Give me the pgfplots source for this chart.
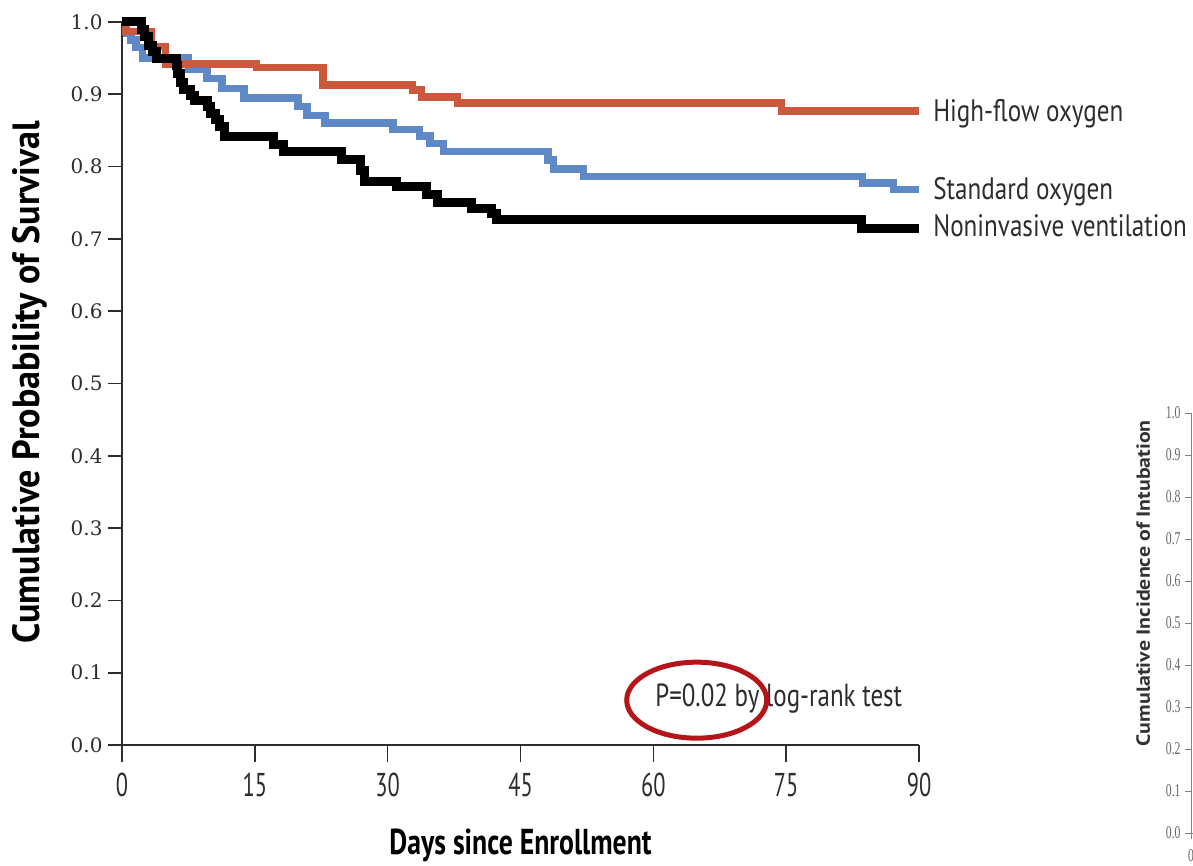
\documentclass[border=0pt]{standalone}
\usepackage{fontspec}
\usepackage{pgfplots}
\pgfplotsset{compat=1.18}
\setmainfont{PT Sans}
\newfontfamily\condfont{PT Sans}[FakeStretch=0.81]
\newfontfamily\pfont{PT Sans}[FakeStretch=0.78]
\newfontfamily\tickfont{PT Sans}[FakeStretch=0.68]
\newfontfamily\xlabfont{PT Sans}[FakeStretch=0.77]
\newfontfamily\ylabfont{PT Sans}[FakeStretch=0.95]
\newfontfamily\ylabtwofont{PT Sans}[FakeStretch=1.15]
\newfontfamily\ytickfont{DejaVu Serif}
\newfontfamily\smallserif{Liberation Serif}[FakeStretch=0.65]
\definecolor{hfred}{RGB}{204,88,62}
\definecolor{stdblue}{RGB}{94,137,198}
\definecolor{ellred}{RGB}{180,20,26}
\definecolor{axgray}{RGB}{45,45,45}

\begin{document}
\begin{tikzpicture}
\useasboundingbox (0,0) rectangle (1193pt,865pt);
\begin{axis}[
  at={(122pt,120pt)}, anchor=south west,
  scale only axis, width=797pt, height=723pt,
  xmin=0, xmax=90, ymin=0, ymax=1,
  clip=false,
  axis x line*=bottom, axis y line*=left,
  axis line style={line width=1.6pt, color=axgray},
  tick align=outside,
  xtick style={/pgfplots/major tick length=17pt, line width=1.6pt, color=axgray},
  ytick style={/pgfplots/major tick length=14pt, line width=1.6pt, color=axgray},
  xtick={0,15,30,45,60,75,90},
  xticklabels={0,15,30,45,60,75,90},
  ytick={0,0.1,0.2,0.3,0.4,0.5,0.6,0.7,0.8,0.9,1.0},
  yticklabels={0.0,0.1,0.2,0.3,0.4,0.5,0.6,0.7,0.8,0.9,1.0},
  xticklabel style={font=\tickfont\fontsize{33}{33}\selectfont, text=axgray, anchor=north, inner sep=0pt, yshift=-24pt},
  yticklabel style={font=\ytickfont\fontsize{20}{20}\selectfont, text=axgray, anchor=east, inner sep=0pt, xshift=-15pt},
  xlabel={Days since Enrollment},
  ylabel={Cumulative Probability of Survival},
  xlabel style={font=\xlabfont\bfseries\fontsize{36}{36}\selectfont, at={(axis description cs:0.5,-0.152)}, anchor=base},
  ylabel style={font=\ylabfont\bfseries\fontsize{38}{38}\selectfont, at={(axis description cs:-0.103,0.502)}, anchor=base, rotate=0},
]
% Standard oxygen
\addplot[const plot, stdblue, line width=7.5pt] coordinates {
(0,0.992) (0.5,0.984) (1.0,0.975) (1.6,0.965) (2.3,0.950) (7.5,0.934) (9.6,0.922)
(11.3,0.908) (13.8,0.895) (19.9,0.883) (20.9,0.871) (22.9,0.860) (30.6,0.851)
(33.6,0.842) (34.8,0.832) (36.3,0.821) (48.1,0.809) (48.7,0.797) (52.1,0.786)
(83.6,0.777) (87.1,0.768) (90,0.768)};
% High-flow oxygen
\addplot[const plot, hfred, line width=7.5pt] coordinates {
(0,1.0) (0.4,0.987) (3.3,0.966) (4.9,0.942) (15.2,0.937) (22.7,0.913)
(32.8,0.906) (33.8,0.896) (37.9,0.888) (74.5,0.877) (90,0.877)};
% Noninvasive ventilation
\addplot[const plot, black, line width=9pt] coordinates {
(0,1.0) (2.2,0.989) (2.5,0.980) (3.0,0.968) (3.5,0.959) (3.9,0.950) (6.1,0.940)
(6.3,0.929) (6.6,0.917) (6.9,0.906) (7.7,0.899) (8.2,0.892) (9.6,0.883)
(10.0,0.874) (10.6,0.865) (11.0,0.856) (11.6,0.841) (17.1,0.830) (18.2,0.821)
(24.8,0.810) (26.9,0.795) (27.4,0.779) (31.0,0.772) (34.4,0.761) (35.6,0.751)
(39.5,0.742) (41.7,0.735) (42.3,0.727) (83.5,0.714) (90,0.714)};
\node[anchor=base west, font=\condfont\fontsize{31}{31}\selectfont, text=axgray, inner sep=0pt] at (axis cs:91.6,0.862) {High-flow oxygen};
\node[anchor=base west, font=\condfont\fontsize{31}{31}\selectfont, text=axgray, inner sep=0pt] at (axis cs:91.6,0.754) {Standard oxygen};
\node[anchor=base west, font=\condfont\fontsize{31}{31}\selectfont, text=axgray, inner sep=0pt] at (axis cs:91.6,0.704) {Noninvasive ventilation};
\node[anchor=base west, font=\pfont\fontsize{32}{32}\selectfont, text=axgray, inner sep=0pt] at (axis cs:60.2,0.0526) {P=0.02 by log-rank test};
\draw[ellred, line width=5pt] (axis cs:64.9,0.062) ellipse [x radius=70pt, y radius=38pt];
\end{axis}

\begin{axis}[
  at={(1191pt,32pt)}, anchor=south west,
  scale only axis, width=300pt, height=420pt,
  xmin=0, xmax=90, ymin=0, ymax=1,
  clip=false,
  axis x line*=bottom, axis y line*=left,
  axis line style={line width=0.8pt, color=gray},
  tick align=outside,
  xtick style={/pgfplots/major tick length=6pt, line width=0.8pt, color=gray},
  ytick style={/pgfplots/major tick length=6pt, line width=0.8pt, color=gray},
  xtick={0}, xticklabels={0},
  ytick={0,0.1,0.2,0.3,0.4,0.5,0.6,0.7,0.8,0.9,1.0},
  yticklabels={0.0,0.1,0.2,0.3,0.4,0.5,0.6,0.7,0.8,0.9,1.0},
  xticklabel style={font=\smallserif\fontsize{18}{18}\selectfont, text=gray!80!black, anchor=north, inner sep=0pt, yshift=-12pt},
  yticklabel style={font=\smallserif\fontsize{18}{18}\selectfont, text=gray!80!black, anchor=east, inner sep=0pt, xshift=-6pt},
  ylabel={Cumulative Incidence of Intubation},
  ylabel style={font=\ylabtwofont\bfseries\fontsize{19}{19}\selectfont, text=black!80, at={(axis description cs:-0.137,0.595)}, anchor=base, rotate=0},
]
\end{axis}
\end{tikzpicture}
\end{document}
